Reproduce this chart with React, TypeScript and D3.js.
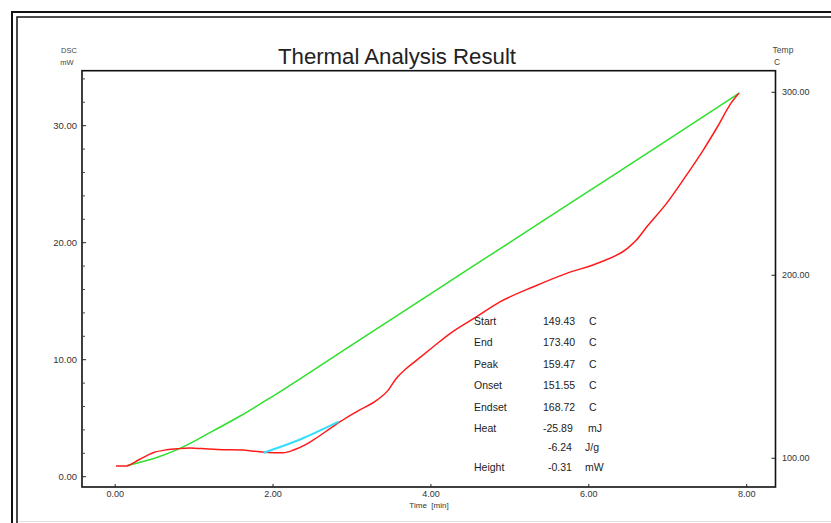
import React from "react";
import * as d3 from "d3";

// DSC heat flow (red) — time [min] vs mW
const dscTime = [0.01, 0.13, 0.3, 0.48, 0.65, 0.8, 0.95, 1.1, 1.3, 1.62, 1.75, 1.88, 2.13, 2.26, 2.4, 2.51, 2.72, 2.85, 3.06, 3.32, 3.46, 3.56, 3.68, 3.82, 4.03, 4.25, 4.58, 4.88, 5.3, 5.72, 6.11, 6.49, 6.6, 6.74, 6.99, 7.25, 7.45, 7.63, 7.8, 7.9];
const dscValue = [0.91, 0.91, 1.45, 2.05, 2.3, 2.4, 2.45, 2.4, 2.32, 2.28, 2.18, 2.1, 2.05, 2.28, 2.7, 3.14, 4.1, 4.7, 5.56, 6.56, 7.4, 8.4, 9.2, 9.97, 11.11, 12.28, 13.68, 14.96, 16.24, 17.38, 18.24, 19.52, 20.2, 21.4, 23.4, 25.9, 27.92, 29.91, 31.91, 32.77];

// Temperature (green) — time [min] vs C
const tempTime = [0.15, 0.5, 0.8, 1.2, 1.6, 2.0, 3.0, 4.0, 5.0, 6.0, 7.0, 7.91];
const tempValue = [96, 100, 105, 114, 123.5, 134, 162, 190, 218, 246, 274, 299.7];

// Baseline (cyan)
const baseTime = [1.88, 2.35, 2.83];
const baseValue = [2.05, 3.2, 4.7];

// Axes
const xTicks = [0, 2, 4, 6, 8];
const yLeftTicks = [0, 10, 20, 30];
const yLeftMinor = [2, 4, 6, 8, 12, 14, 16, 18, 22, 24, 26, 28, 32, 34];
const yRightTicks = [100, 200, 300];
const xDomain = [-0.42, 8.365];
const yLeftDomain = [-0.88, 34.7];
const yRightDomain = [84.3, 311.8];

// Result table
const statLabels = ["Start", "End", "Peak", "Onset", "Endset", "Heat", "", "Height"];
const statValues = ["149.43", "173.40", "159.47", "151.55", "168.72", "-25.89", "-6.24", "-0.31"];
const statUnits = ["C", "C", "C", "C", "C", "mJ", "J/g", "mW"];

const FONT = "'Liberation Sans', Arial, sans-serif";

export default function App() {
  const W = 831, H = 523;
  const L = 82, R = 775.5, T = 70.7, B = 487;
  const x = d3.scaleLinear().domain(xDomain).range([L, R]);
  const yL = d3.scaleLinear().domain(yLeftDomain).range([B, T]);
  const yR = d3.scaleLinear().domain(yRightDomain).range([B, T]);

  const dscLine = d3.line<number>().x((_, i) => x(dscTime[i])).y((d) => yL(d)).curve(d3.curveMonotoneX);
  const tempLine = d3.line<number>().x((_, i) => x(tempTime[i])).y((d) => yR(d)).curve(d3.curveMonotoneX);
  const baseLine = d3.line<number>().x((_, i) => x(baseTime[i])).y((d) => yL(d)).curve(d3.curveMonotoneX);

  const rowY = [321, 342, 364, 385, 407, 428, 447, 467];

  return (
    <svg width={W} height={H} style={{ position: "absolute", left: 0, top: 0, background: "#fff" }} fontFamily={FONT}>
      {/* outer frame */}
      <rect x={12} y={12} width={W + 20} height={H + 20} fill="none" stroke="#111" strokeWidth={2} />
      <rect x={17} y={17} width={W + 20} height={H + 20} fill="none" stroke="#111" strokeWidth={1.5} />
      <line x1={18} x2={W} y1={521.5} y2={521.5} stroke="#e2e2e2" strokeWidth={1} />

      {/* title */}
      <text x={397} y={63.5} textAnchor="middle" fontSize={22} fill="#222" textLength={238} lengthAdjust="spacingAndGlyphs">
        Thermal Analysis Result
      </text>
      <text x={69} y={53} textAnchor="middle" fontSize={7.5} fill="#444">DSC</text>
      <text x={67} y={65} textAnchor="middle" fontSize={7.5} fill="#444">mW</text>
      <text x={783} y={53} textAnchor="middle" fontSize={8.5} fill="#444">Temp</text>
      <text x={777} y={65} textAnchor="middle" fontSize={8.5} fill="#444">C</text>

      {/* curves */}
      <path d={tempLine(tempValue) || ""} fill="none" stroke="#2ee02e" strokeWidth={1.5} />
      <path d={dscLine(dscValue) || ""} fill="none" stroke="#ff1a1a" strokeWidth={1.5} />
      <path d={baseLine(baseValue) || ""} fill="none" stroke="#33ddff" strokeWidth={2} />

      {/* plot box */}
      <rect x={L} y={T} width={R - L} height={B - T} fill="none" stroke="#111" strokeWidth={1.6} />

      {/* left axis */}
      {yLeftTicks.map((v) => (
        <g key={"yl" + v}>
          <line x1={L} x2={L + 4} y1={yL(v)} y2={yL(v)} stroke="#222" />
          <text x={L - 5} y={yL(v)} dy="0.35em" textAnchor="end" fontSize={9.5} fill="#333">{v.toFixed(2)}</text>
        </g>
      ))}
      {yLeftMinor.map((v) => (
        <line key={"ym" + v} x1={L} x2={L + 3} y1={yL(v)} y2={yL(v)} stroke="#444" />
      ))}

      {/* right axis */}
      {yRightTicks.map((v) => (
        <g key={"yr" + v}>
          <line x1={R - 4} x2={R} y1={yR(v)} y2={yR(v)} stroke="#222" />
          <text x={782} y={yR(v)} dy="0.35em" textAnchor="start" fontSize={9} fill="#333">{v.toFixed(2)}</text>
        </g>
      ))}

      {/* x axis */}
      {xTicks.map((v) => (
        <g key={"x" + v}>
          <line x1={x(v)} x2={x(v)} y1={B} y2={B - 3} stroke="#222" />
          <text x={x(v)} y={496.5} textAnchor="middle" fontSize={9} fill="#333">{v.toFixed(2)}</text>
        </g>
      ))}
      <text x={429} y={508} textAnchor="middle" fontSize={8} fill="#333" style={{ whiteSpace: "pre" }}>
        {"Time  [min]"}
      </text>

      {/* result table */}
      {statLabels.map((lab, i) => (
        <g key={"s" + i} fontSize={10.5} fill="#222">
          {lab && <text x={474} y={rowY[i]} dy="0.35em">{lab}</text>}
          <text x={statValues[i].length < 6 ? 548 : 543} y={rowY[i]} dy="0.35em">{statValues[i]}</text>
          <text x={statUnits[i].length > 1 && statValues[i].length < 6 ? 585 : statUnits[i] === "C" ? 589 : 588} y={rowY[i]} dy="0.35em">{statUnits[i]}</text>
        </g>
      ))}
    </svg>
  );
}
